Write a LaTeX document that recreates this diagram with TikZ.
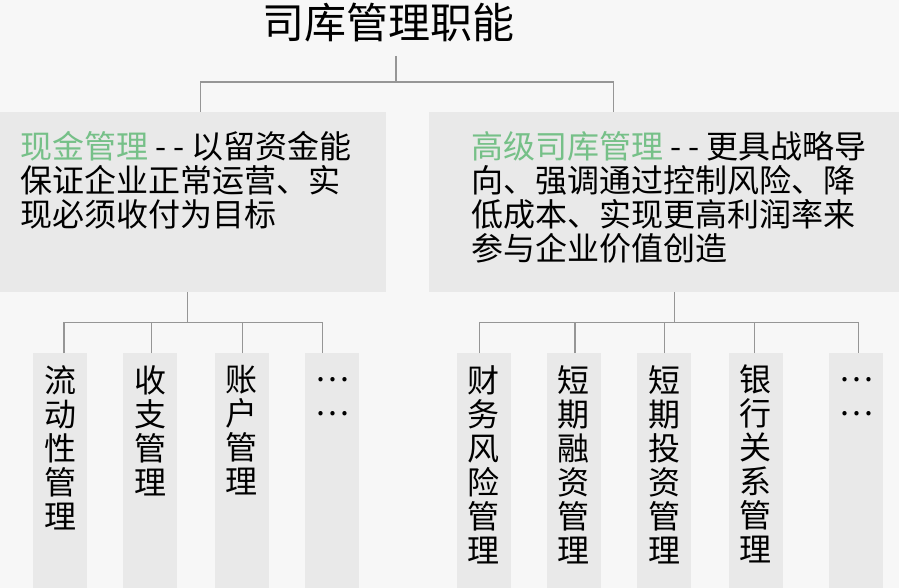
\documentclass[tikz,border=0pt]{standalone}
\usepackage{fontspec}
\usetikzlibrary{positioning}
\newfontfamily\cjk{Noto Sans CJK SC}
\definecolor{paper}{RGB}{247,247,247}
\definecolor{shade}{RGB}{233,233,233}
\definecolor{wire}{RGB}{150,150,150}
\definecolor{mint}{RGB}{118,192,136}

\begin{document}
\begin{tikzpicture}[x=1pt,y=-1pt, node distance=36pt,
  every node/.style={font=\cjk\fontsize{32}{34}\selectfont,inner sep=0pt},
  panel/.style={fill=shade,anchor=north west,minimum height=180pt},
  col/.style={fill=shade,anchor=north,minimum width=54pt,minimum height=235pt},
  word/.style={align=center,anchor=north},
  link/.style={draw=wire,line width=1.2pt}]
  \path[use as bounding box, fill=paper] (0,0) rectangle (899,588);

  \node[font=\cjk\fontsize{42}{46}\selectfont] (title) at (388,23) {司库管理职能};

  % two main panels
  \node[panel, minimum width=386pt] (cash) at (0,112) {};
  \node[panel, minimum width=470pt] (adv) at (429,112) {};
  \node[word, anchor=north west, align=left] (cashtxt) at (20,131)
    {\textcolor{mint}{现金管理} - - 以留资金能\\保证企业正常运营、实\\现必须收付为目标};
  \node[word, anchor=north west, align=left] (advtxt) at (471,131)
    {\textcolor{mint}{高级司库管理} - - 更具战略导\\向、强调通过控制风险、降\\低成本、实现更高利润率来\\参与企业价值创造};

  % columns under the left panel
  \node[col] (flow) at (60,353) {};
  \node[col, right=of flow] (rec) {};
  \node[col, right=37pt of rec] (acct) {};
  \node[col, right=of acct] (etcl) {};
  \node[word, below=12pt of flow.north] (flowtxt) {流\\动\\性\\管\\理};
  \node[word, below=12pt of rec.north] (rectxt) {收\\支\\管\\理};
  \node[word, below=12pt of acct.north] (accttxt) {账\\户\\管\\理};
  \node[word, below=24pt of etcl.north] (etcltxt) {…\\…};

  % columns under the right panel
  \node[col] (risk) at (483.5,353) {};
  \node[col, right=of risk] (fin) {};
  \node[col, right=of fin] (inv) {};
  \node[col, right=37pt of inv] (bank) {};
  \node[col, right=46pt of bank] (etcr) {};
  \node[word, below=12pt of risk.north] (risktxt) {财\\务\\风\\险\\管\\理};
  \node[word, below=12pt of fin.north] (fintxt) {短\\期\\融\\资\\管\\理};
  \node[word, below=12pt of inv.north] (invtxt) {短\\期\\投\\资\\管\\理};
  \node[word, below=12pt of bank.north] (banktxt) {银\\行\\关\\系\\管\\理};
  \node[word, below=24pt of etcr.north] (etcrtxt) {…\\…};

  % connectors
  \draw[link] ([shift={(8,33)}]title.center) -- ++(0,26) coordinate (tbar);
  \draw[link] ([xshift=7]cash.north) |- (tbar) -| ([xshift=-51]adv.north);

  \draw[link] ([xshift=-6]cash.south) -- ++(0,30) coordinate (lbar);
  \draw[link] ([xshift=4]flow.north) |- (lbar) -| ([xshift=-10]etcl.north);
  \draw[link] ([xshift=1]rec.north) -- ++(0,-31);
  \draw[link] ([xshift=1]acct.north) -- ++(0,-31);

  \draw[link] ([xshift=10]adv.south) -- ++(0,30) coordinate (rbar);
  \draw[link] ([xshift=-4]risk.north) |- (rbar) -| ([xshift=2]etcr.north);
  \draw[link] ([xshift=1]fin.north) -- ++(0,-31);
  \draw[link] (inv.north) -- ++(0,-31);
  \draw[link] ([xshift=-1]bank.north) -- ++(0,-31);
\end{tikzpicture}
\end{document}
